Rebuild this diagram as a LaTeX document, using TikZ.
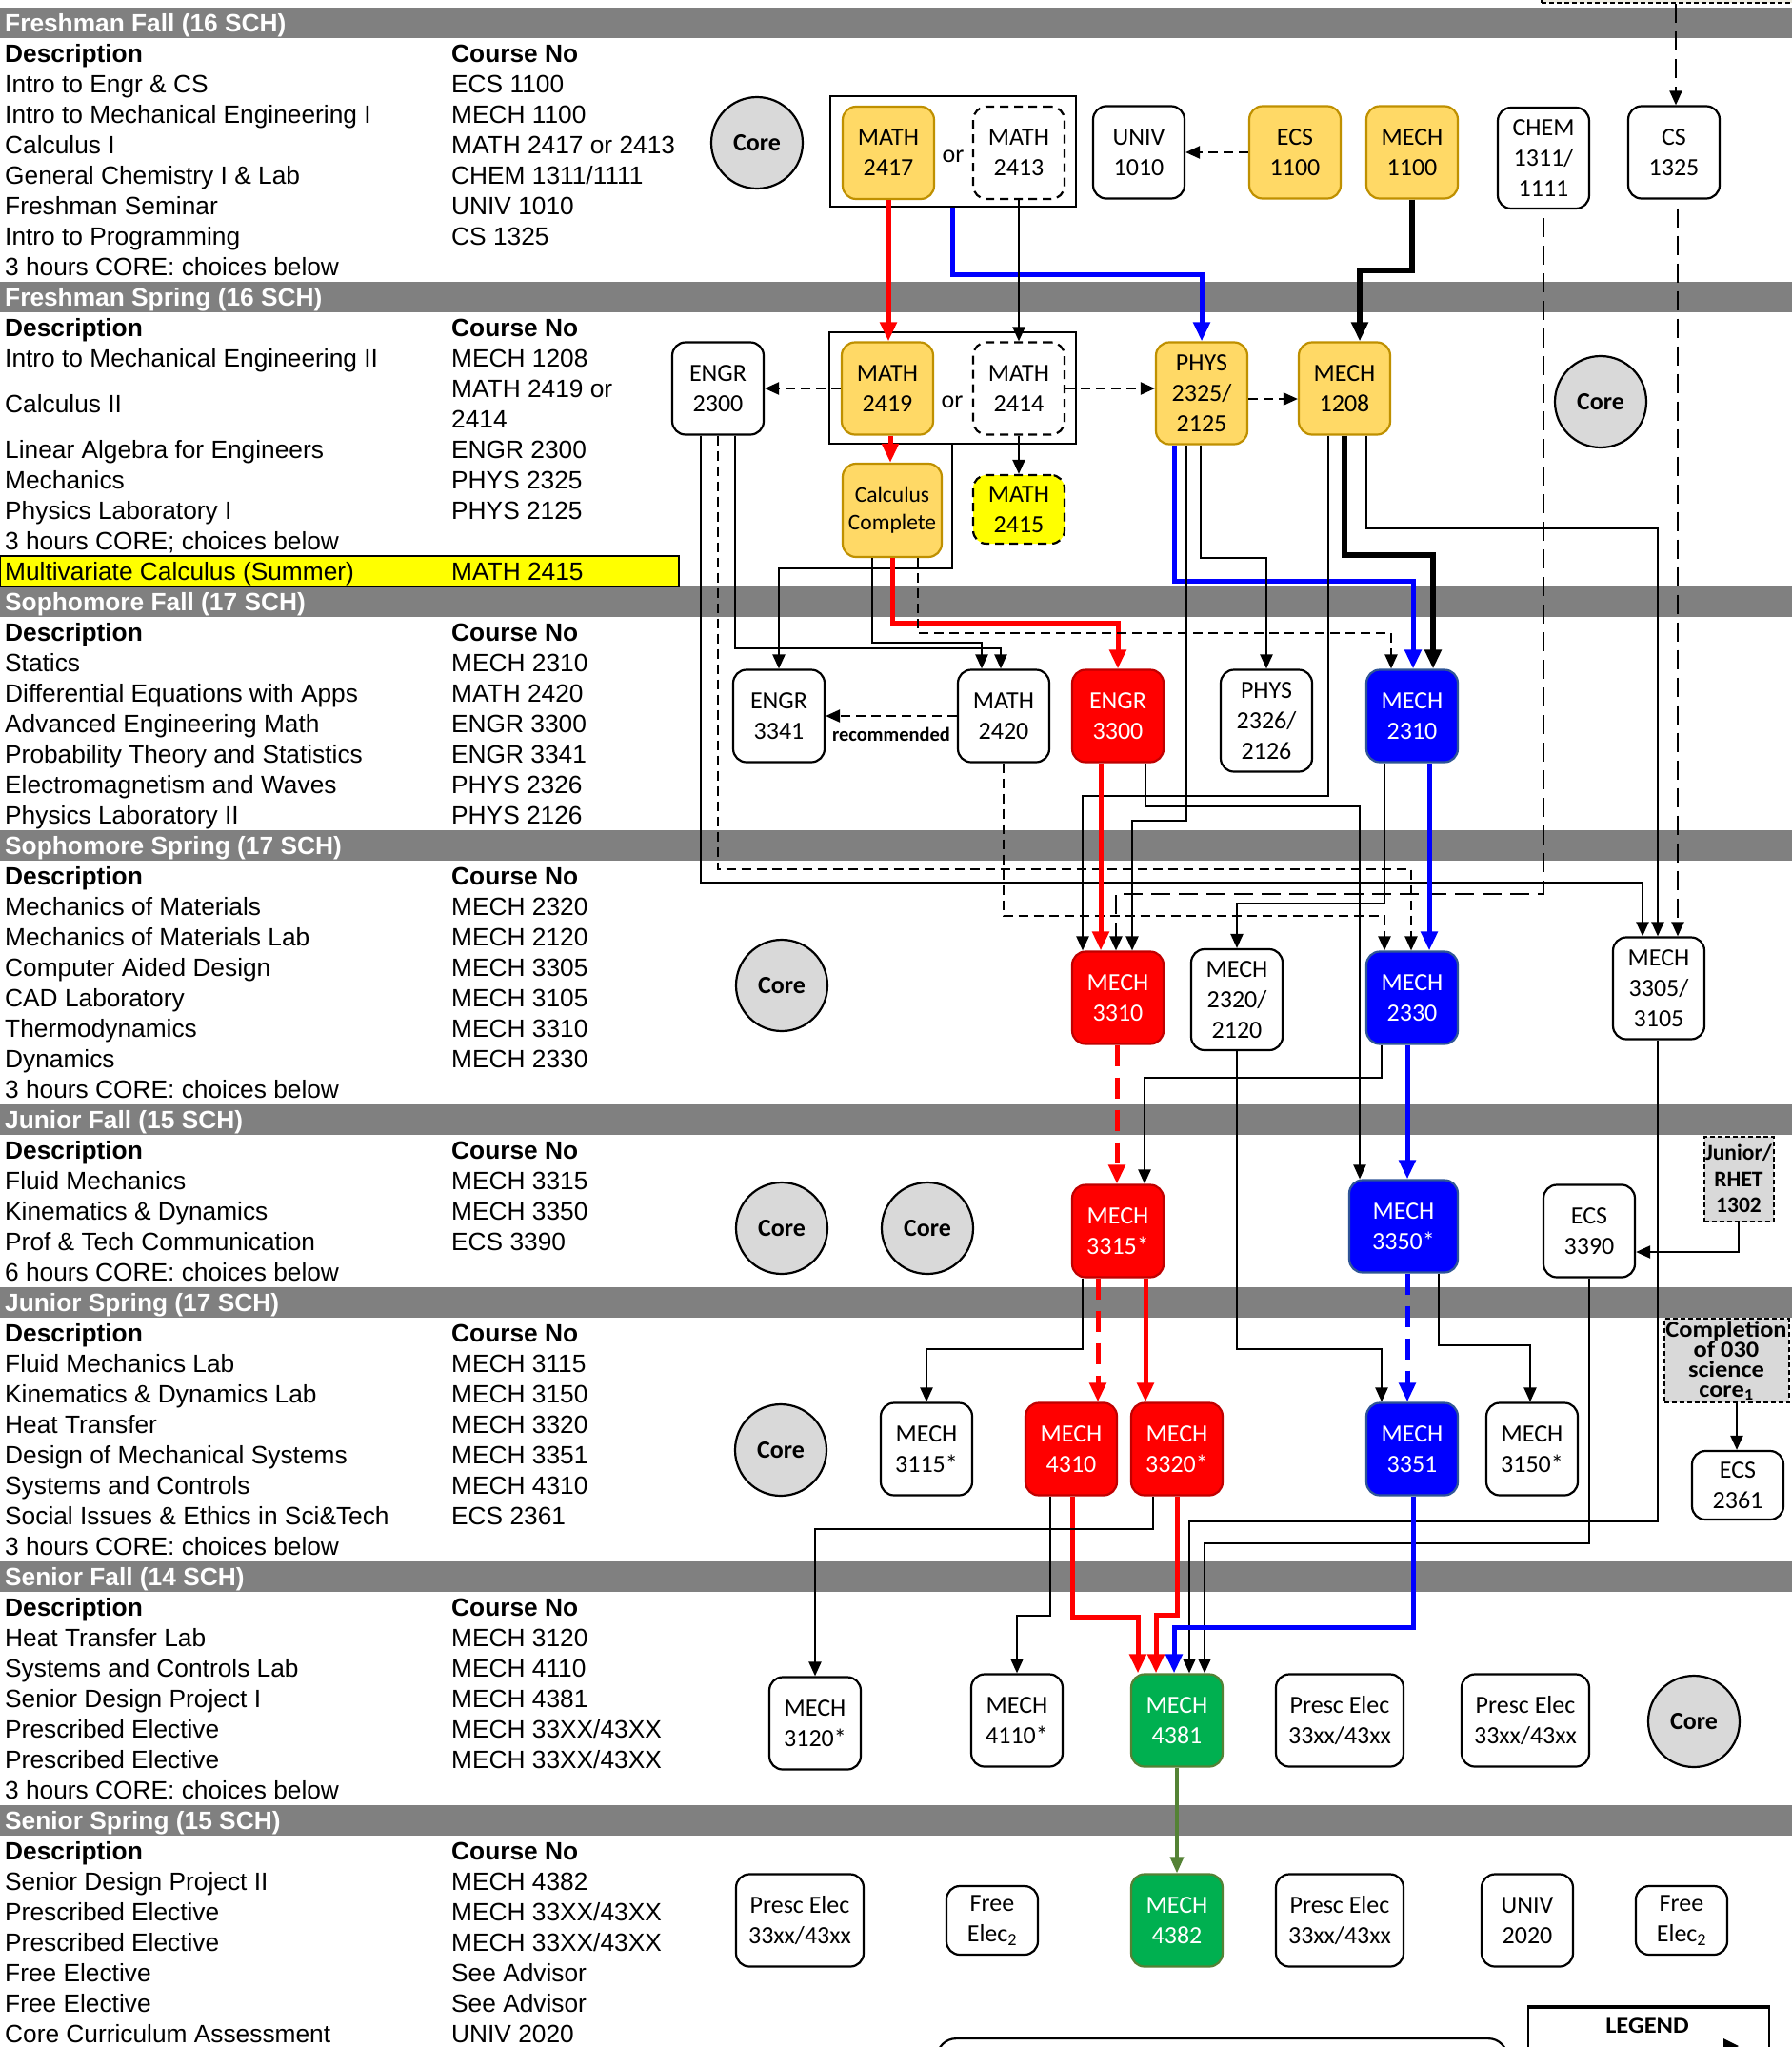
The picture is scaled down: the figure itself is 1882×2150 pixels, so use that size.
\documentclass[tikz,border=0pt]{standalone}
\usepackage{fontspec}
\setmainfont{Liberation Sans}
\newfontfamily\calib{Carlito}
\newfontfamily\calibw{Carlito}[FakeStretch=1.1]
\usetikzlibrary{arrows.meta}
\definecolor{bargray}{HTML}{808080}
\definecolor{goldfill}{HTML}{FFD966}
\definecolor{goldline}{HTML}{BF9000}
\definecolor{redfill}{HTML}{FF0000}
\definecolor{redline}{HTML}{C00000}
\definecolor{bluefill}{HTML}{0000FF}
\definecolor{blueline}{HTML}{2F5597}
\definecolor{greenfill}{HTML}{00B050}
\definecolor{greenline}{HTML}{548235}
\definecolor{coregray}{HTML}{D9D9D9}
\definecolor{beige}{HTML}{EEECE1}
\definecolor{hlyellow}{HTML}{FFFF00}
\newcommand{\boxfont}{\calib\fontsize{26}{32}\selectfont}
\newcommand{\lfont}{\fontsize{26.3}{32}\selectfont}
\newcommand{\complfont}{\calibw\bfseries\fontsize{24}{21}\selectfont\lineskiplimit=-30pt\relax}
\newcommand{\leftrow}[3]{%
  \node[ltext] (d#1) at (5,{33.5+32*#1}) {#2};
  \node[ltext] (c#1) at (474,{33.5+32*#1}) {#3};}
\newcommand{\headrow}[1]{%
  \node[ltext,font=\lfont\bfseries] (d#1) at (5,{33.5+32*#1}) {Description};
  \node[ltext,font=\lfont\bfseries] (c#1) at (474,{33.5+32*#1}) {Course No};}
\tikzset{
  ltext/.style={anchor=base west, inner sep=0pt, font=\lfont},
  bartext/.style={anchor=base west, inner sep=0pt, font=\lfont\bfseries, text=white},
  box/.style={draw, line width=2.2pt, rounded corners=14pt, minimum width=96pt,
    minimum height=97pt, inner sep=0pt, align=center, font=\boxfont},
  gold/.style={box, fill=goldfill, draw=goldline},
  redb/.style={box, fill=redfill, draw=redline, text=white},
  blueb/.style={box, fill=bluefill, draw=blueline, text=white},
  greenb/.style={box, fill=greenfill, draw=greenline, text=white},
  wbox/.style={box, fill=white},
  dbox/.style={box, fill=white, dash pattern=on 9pt off 6pt},
  gbox/.style={draw, line width=2pt, dash pattern=on 5pt off 3pt, fill=coregray,
    minimum width=73pt, minimum height=89pt, inner sep=0pt, align=center,
    font=\calib\bfseries\fontsize{23.5}{27.5}\selectfont},
  corec/.style={circle, draw, line width=2.2pt, fill=coregray, minimum size=96pt,
    inner sep=0pt, font=\calib\bfseries\fontsize{26}{30}\selectfont},
  frame/.style={draw, line width=2.2pt, minimum width=258pt, minimum height=116pt, inner sep=0pt},
  ortext/.style={inner sep=0pt, font=\boxfont},
  conn/.style={line width=2.2pt, -{Triangle[length=15pt,width=13pt]}},
  dconn/.style={conn, dash pattern=on 10pt off 6pt},
  ldconn/.style={conn, dash pattern=on 20pt off 9pt, dash phase=20pt},
  thk/.style={line width=5pt, -{Triangle[length=20pt,width=17pt]}},
  redc/.style={thk, draw=redfill},
  bluec/.style={thk, draw=bluefill},
  blkc/.style={thk, draw=black, line width=5.5pt},
  grc/.style={line width=3.5pt, draw=greenline, -{Triangle[length=17pt,width=14pt]}},
  tdash/.style={dash pattern=on 22pt off 12pt}
}
\begin{document}
\begin{tikzpicture}[x=1pt,y=-1pt]
\useasboundingbox (0,0) rectangle (1882,2150);
\fill[white] (0,0) rectangle (1882,2150);

% semester bars
\foreach \k/\t in {0/{Freshman Fall (16 SCH)},9/{Freshman Spring (16 SCH)},
  19/{Sophomore Fall (17 SCH)},27/{Sophomore Spring (17 SCH)},36/{Junior Fall (15 SCH)},
  42/{Junior Spring (17 SCH)},51/{Senior Fall (14 SCH)},59/{Senior Spring (15 SCH)}}{
  \fill[bargray] (0,{8+32*\k}) rectangle (1882,{40+32*\k});
  \node[bartext] (bar\k) at (5,{33+32*\k}) {\t};
}

% highlight row
\fill[hlyellow, draw=black, line width=1.2pt] (0,584) rectangle (713,616);

% left text
\headrow{1}
\leftrow{2}{Intro to Engr \& CS}{ECS 1100}
\leftrow{3}{Intro to Mechanical Engineering I}{MECH 1100}
\leftrow{4}{Calculus I}{MATH 2417 or 2413}
\leftrow{5}{General Chemistry I \& Lab}{CHEM 1311/1111}
\leftrow{6}{Freshman Seminar}{UNIV 1010}
\leftrow{7}{Intro to Programming}{CS 1325}
\leftrow{8}{3 hours CORE: choices below}{}
\headrow{10}
\leftrow{11}{Intro to Mechanical Engineering II}{MECH 1208}
\node[ltext] (dcalc) at (5,433.5) {Calculus II};
\node[ltext] (c12) at (474,417.5) {MATH 2419 or};
\node[ltext] (c13) at (474,449.5) {2414};
\leftrow{14}{Linear Algebra for Engineers}{ENGR 2300}
\leftrow{15}{Mechanics}{PHYS 2325}
\leftrow{16}{Physics Laboratory I}{PHYS 2125}
\leftrow{17}{3 hours CORE; choices below}{}
\leftrow{18}{Multivariate Calculus (Summer)}{MATH 2415}
\headrow{20}
\leftrow{21}{Statics}{MECH 2310}
\leftrow{22}{Differential Equations with Apps}{MATH 2420}
\leftrow{23}{Advanced Engineering Math}{ENGR 3300}
\leftrow{24}{Probability Theory and Statistics}{ENGR 3341}
\leftrow{25}{Electromagnetism and Waves}{PHYS 2326}
\leftrow{26}{Physics Laboratory II}{PHYS 2126}
\headrow{28}
\leftrow{29}{Mechanics of Materials}{MECH 2320}
\leftrow{30}{Mechanics of Materials Lab}{MECH 2120}
\leftrow{31}{Computer Aided Design}{MECH 3305}
\leftrow{32}{CAD Laboratory}{MECH 3105}
\leftrow{33}{Thermodynamics}{MECH 3310}
\leftrow{34}{Dynamics}{MECH 2330}
\leftrow{35}{3 hours CORE: choices below}{}
\headrow{37}
\leftrow{38}{Fluid Mechanics}{MECH 3315}
\leftrow{39}{Kinematics \& Dynamics}{MECH 3350}
\leftrow{40}{Prof \& Tech Communication}{ECS 3390}
\leftrow{41}{6 hours CORE: choices below}{}
\headrow{43}
\leftrow{44}{Fluid Mechanics Lab}{MECH 3115}
\leftrow{45}{Kinematics \& Dynamics Lab}{MECH 3150}
\leftrow{46}{Heat Transfer}{MECH 3320}
\leftrow{47}{Design of Mechanical Systems}{MECH 3351}
\leftrow{48}{Systems and Controls}{MECH 4310}
\leftrow{49}{Social Issues \& Ethics in Sci\&Tech}{ECS 2361}
\leftrow{50}{3 hours CORE: choices below}{}
\headrow{52}
\leftrow{53}{Heat Transfer Lab}{MECH 3120}
\leftrow{54}{Systems and Controls Lab}{MECH 4110}
\leftrow{55}{Senior Design Project I}{MECH 4381}
\leftrow{56}{Prescribed Elective}{MECH 33XX/43XX}
\leftrow{57}{Prescribed Elective}{MECH 33XX/43XX}
\leftrow{58}{3 hours CORE: choices below}{}
\headrow{60}
\leftrow{61}{Senior Design Project II}{MECH 4382}
\leftrow{62}{Prescribed Elective}{MECH 33XX/43XX}
\leftrow{63}{Prescribed Elective}{MECH 33XX/43XX}
\leftrow{64}{Free Elective}{See Advisor}
\leftrow{65}{Free Elective}{See Advisor}
\leftrow{66}{Core Curriculum Assessment}{UNIV 2020}

% top cut dashed box
\node[draw, line width=2pt, dash pattern=on 5pt off 3pt, fill=beige, minimum width=272pt,
  minimum height=30pt, anchor=south west] (topbox) at (1618,4) {};

% Freshman Fall
\node[corec] (core1) at (795,150) {Core};
\node[frame] (fr1) at (1001,159) {};
\node[gold] (m2417) at (933,160.5) {MATH\\2417};
\node[ortext] (or1) at (1001,164) {or};
\node[dbox] (m2413) at (1070,160.5) {MATH\\2413};
\node[wbox] (u1010) at (1196,160) {UNIV\\1010};
\node[gold] (e1100) at (1360,160) {ECS\\1100};
\node[gold] (m1100) at (1483,160) {MECH\\1100};
\node[wbox, minimum height=106pt] (chem) at (1621,166) {CHEM\\1311/\\1111};
\node[wbox] (cs1325) at (1758,160) {CS\\1325};

% Freshman Spring
\node[wbox] (e2300) at (754,408) {ENGR\\2300};
\node[frame, minimum width=259pt, minimum height=117pt] (fr2) at (1000.5,407.5) {};
\node[gold] (m2419) at (932,408) {MATH\\2419};
\node[ortext] (or2) at (1000,422) {or};
\node[dbox] (m2414) at (1070,408) {MATH\\2414};
\node[gold, minimum height=107pt] (p2325) at (1262,413) {PHYS\\2325/\\2125};
\node[gold] (m1208) at (1412,408) {MECH\\1208};
\node[corec] (core2) at (1681,422) {Core};
\node[gold, minimum width=104pt, minimum height=98pt,
  font=\calib\fontsize{23.5}{29}\selectfont] (calc) at (937,536) {Calculus\\Complete};
\node[dbox, fill=hlyellow, minimum height=72pt] (m2415) at (1070,535) {MATH\\2415};

% Sophomore Fall
\node[wbox] (e3341) at (818,752) {ENGR\\3341};
\node[wbox] (m2420) at (1054,752) {MATH\\2420};
\node[redb] (e3300) at (1174,752) {ENGR\\3300};
\node[wbox, minimum height=107pt] (p2326) at (1330,757) {PHYS\\2326/\\2126};
\node[blueb] (m2310) at (1483,752) {MECH\\2310};

% Sophomore Spring
\node[corec] (core3) at (821,1035) {Core};
\node[redb] (m3310) at (1174,1048) {MECH\\3310};
\node[wbox, minimum height=106pt] (m2320) at (1299,1050) {MECH\\2320/\\2120};
\node[blueb] (m2330) at (1483,1048) {MECH\\2330};
\node[wbox, minimum height=107pt] (m3305) at (1742,1038) {MECH\\3305/\\3105};

% Junior Fall
\node[corec] (core4) at (821,1290) {Core};
\node[corec] (core5) at (974,1290) {Core};
\node[redb] (m3315) at (1174,1293) {MECH\\3315*};
\node[blueb, minimum width=114pt] (m3350) at (1474,1288) {MECH\\3350*};
\node[wbox] (e3390) at (1669,1293) {ECS\\3390};
\node[gbox] (rhet) at (1826,1238) {Junior/\\RHET\\1302};
\node[gbox, minimum width=131pt, minimum height=88pt, font=\complfont] (compl) at (1813,1429)
  {Completion\\of 030\\science\\core\textsubscript{1}};

% Junior Spring
\node[corec] (core6) at (820,1523) {Core};
\node[wbox] (m3115) at (973,1522) {MECH\\3115*};
\node[redb] (m4310) at (1125,1522) {MECH\\4310};
\node[redb] (m3320) at (1236,1522) {MECH\\3320*};
\node[blueb] (m3351) at (1483,1522) {MECH\\3351};
\node[wbox] (m3150) at (1609,1522) {MECH\\3150*};
\node[wbox, minimum height=72pt] (e2361) at (1825,1560) {ECS\\2361};

% Senior Fall
\node[wbox] (m3120) at (856,1810) {MECH\\3120*};
\node[wbox] (m4110) at (1068,1807) {MECH\\4110*};
\node[greenb] (m4381) at (1236,1807) {MECH\\4381};
\node[wbox, minimum width=134pt] (pe1) at (1407,1807) {Presc Elec\\33xx/43xx};
\node[wbox, minimum width=134pt] (pe2) at (1602,1807) {Presc Elec\\33xx/43xx};
\node[corec] (core7) at (1779,1808) {Core};

% Senior Spring
\node[wbox, minimum width=134pt] (pe3) at (840,2017) {Presc Elec\\33xx/43xx};
\node[wbox, minimum height=72pt] (fe1) at (1042,2017) {Free\\Elec\textsubscript{2}};
\node[greenb] (m4382) at (1236,2017) {MECH\\4382};
\node[wbox, minimum width=134pt] (pe4) at (1407,2017) {Presc Elec\\33xx/43xx};
\node[wbox] (u2020) at (1604,2017) {UNIV\\2020};
\node[wbox, minimum height=72pt] (fe2) at (1766,2017) {Free\\Elec\textsubscript{2}};

% bottom partial boxes
\node[draw, line width=2.2pt, rounded corners=20pt, minimum width=599pt, minimum height=80pt,
  anchor=north west] (bottombox) at (983,2140) {};
\node[draw, line width=2pt, minimum width=253pt, minimum height=80pt, anchor=north west]
  (legend) at (1604,2108) {};
\draw[line width=4.5pt] (legend.north west) -- (legend.north east);
\node[inner sep=0pt, font=\calibw\bfseries\fontsize{24}{28}\selectfont] (legendt) at (1730,2128) {LEGEND};
\fill (1810,2141) -- (1826,2149) -- (1810,2157) -- cycle;

% ---------- connectors ----------
\draw[ldconn, dash phase=0pt] (topbox.south -| 1760,0) -- (cs1325.north -| 1760,0);
\draw[dconn] (e1100.west) -- (u1010.east);
\draw[redc] (m2417.south) -- (m2419.north -| m2417.south);
\draw[bluec] (fr1.south -| 1000,0) -- (1000,288) -- (1262,288) -- (p2325.north);
\draw[conn] (m2413.south) -- (m2414.north);
\draw[blkc] (m1100.south) -- (1483,284) -- (1428,284) -- (m1208.north -| 1428,0);

\draw[dconn] (m2419.west) -- (e2300.east);
\draw[dconn] (m2414.east) -- (p2325.west |- m2414.east);
\draw[dconn] (p2325.east |- 0,419) -- (m1208.west |- 0,419);
\draw[redc] (m2419.south -| 935,0) -- (calc.north -| 935,0);
\draw[conn] (m2414.south) -- (m2415.north);
\draw[conn] (fr2.south -| 1000,0) -- (1000,597) -- (818,597) -- (e3341.north);
\draw[conn] (e2300.south -| 772,0) -- (772,681) -- (1051,681) -- (m2420.north -| 1051,0);
\draw[conn] (calc.south -| 916,0) -- (916,675) -- (1031,675) -- (m2420.north -| 1031,0);
\draw[redc] (calc.south -| 937,0) -- (937,654) -- (1174,654) -- (e3300.north);
\draw[dconn] (calc.south -| 964,0) -- (964,665) -- (1461,665) -- (m2310.north -| 1461,0);
\draw[conn] (e2300.south -| 736,0) -- (736,927) -- (1725,927) -- (m3305.north -| 1725,0);
\draw[dconn] (e2300.south -| 754,0) -- (754,913) -- (1482,913) -- (m2330.north -| 1482,0);
\draw[bluec] (p2325.south -| 1233.5,0) -- (1233.5,610) -- (1484,610) -- (m2310.north -| 1484,0);
\draw[conn] (p2325.south -| 1246,0) -- (1246,862) -- (1189,862) -- (m3310.north -| 1189,0);
\draw[conn] (p2325.south -| 1261,0) -- (1261,586) -- (1330,586) -- (p2326.north);
\draw[conn] (m1208.south -| 1395,0) -- (1395,836) -- (1137,836) -- (m3310.north -| 1137,0);
\draw[blkc] (m1208.south -| 1412,0) -- (1412,583) -- (1505,583) -- (m2310.north -| 1505,0);
\draw[conn] (m1208.south -| 1435,0) -- (1435,555) -- (1741,555) -- (m3305.north -| 1741,0);
\draw[ldconn] (chem.south) -- (1621,939) -- (1172,939) -- (m3310.north -| 1172,0);
\draw[ldconn] (cs1325.south -| 1762,0) -- (m3305.north -| 1762,0);

\draw[dconn] (m2420.west) -- (e3341.east);
\node[inner sep=0pt, font=\calib\bfseries\fontsize{20.5}{24}\selectfont] (recl) at (936,771) {recommended};
\draw[dconn] (m2420.south) -- (1054,962) -- (1454,962) -- (m2330.north -| 1454,0);
\draw[redc] (e3300.south -| 1156,0) -- (m3310.north -| 1156,0);
\draw[conn] (e3300.south -| 1203,0) -- (1203,847) -- (1428,847) -- (m3350.north -| 1428,0);
\draw[conn] (m2310.south -| 1454,0) -- (1454,949) -- (1299,949) -- (m2320.north);
\draw[bluec] (m2310.south -| 1501,0) -- (m2330.north -| 1501,0);

\draw[redc, tdash] (m3310.south -| 1173,0) -- (m3315.north -| 1173,0);
\draw[conn] (m2330.south -| 1451,0) -- (1451,1132) -- (1202,1132) -- (m3315.north -| 1202,0);
\draw[bluec] (m2330.south -| 1478,0) -- (m3350.north -| 1478,0);
\draw[conn] (m2320.south) -- (1299,1417) -- (1451,1417) -- (m3351.north -| 1451,0);
\draw[conn] (rhet.south) -- (1826,1315) -- (e3390.east |- 0,1315);

\draw[conn] (m3315.south -| 1137,0) -- (1137,1417) -- (973,1417) -- (m3115.north);
\draw[redc, tdash] (m3315.south -| 1153,0) -- (m4310.north -| 1153,0);
\draw[redc] (m3315.south -| 1203,0) -- (m3320.north -| 1203,0);
\draw[bluec, tdash] (m3350.south -| 1478,0) -- (m3351.north -| 1478,0);
\draw[conn] (m3350.south -| 1511,0) -- (1511,1413) -- (1607,1413) -- (m3150.north -| 1607,0);
\draw[conn] (compl.south -| 1824,0) -- (e2361.north -| 1824,0);

\draw[conn] (e3390.south) -- (1669,1621) -- (1265,1621) -- (m4381.north -| 1265,0);
\draw[conn] (m3305.south -| 1741,0) -- (1741,1598) -- (1249,1598) -- (m4381.north -| 1249,0);
\draw[conn] (m4310.south -| 1103,0) -- (1103,1697) -- (1068,1697) -- (m4110.north);
\draw[redc] (m4310.south -| 1126,0) -- (1126,1698) -- (1195,1698) -- (m4381.north -| 1195,0);
\draw[conn] (m3320.south -| 1211,0) -- (1211,1606) -- (856,1606) -- (m3120.north);
\draw[redc] (m3320.south -| 1236,0) -- (1236,1696) -- (1214,1696) -- (m4381.north -| 1214,0);
\draw[bluec] (m3351.south -| 1484,0) -- (1484,1709) -- (1233,1709) -- (m4381.north -| 1233,0);
\draw[grc] (m4381.south) -- (m4382.north);
\end{tikzpicture}
\end{document}
